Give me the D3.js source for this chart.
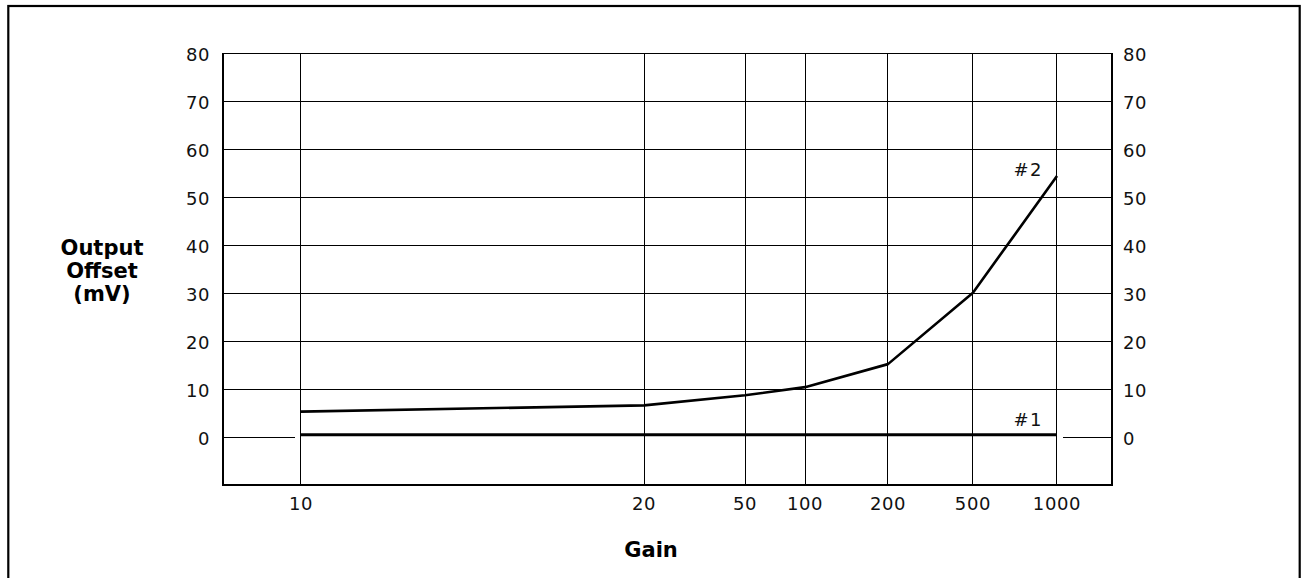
<!DOCTYPE html>
<html>
<head>
<meta charset="utf-8">
<script src="https://cdn.jsdelivr.net/npm/d3@7"></script>
<style>
  html, body { margin: 0; padding: 0; background: #fff; }
  svg { display: block; }
</style>
</head>
<body>
<svg id="chart" width="1304" height="578"></svg>
<script>
// ---- data ----
const gainTicks = [10, 20, 50, 100, 200, 500, 1000];
const yTicks = [0, 10, 20, 30, 40, 50, 60, 70, 80];
const series1Gain = [10, 1000];
const series1Offset = [0.5, 0.5];
const series2Gain = [10, 20, 50, 100, 200, 500, 1000];
const series2Offset = [5.3, 6.6, 8.7, 10.4, 15.2, 30.1, 54.4];
const seriesLabels = ["#1", "#2"];
const xTitle = "Gain";
const yTitleLines = ["Output", "Offset", "(mV)"];

// ---- layout ----
const W = 1304, H = 578;
const plot = { left: 223, right: 1112, top: 53.3, bottom: 485 };
// relative placement of the (non-uniform) gain ticks along the plot width
const tickFrac = [0.0877, 0.4736, 0.5872, 0.6547, 0.7480, 0.8436, 0.9381];
const font = "'DejaVu Sans', sans-serif";

const svg = d3.select("#chart");

const x = d3.scaleLinear()
  .domain(gainTicks)
  .range(tickFrac.map(f => plot.left + f * (plot.right - plot.left)));
const y = d3.scaleLinear().domain([-10, 80]).range([plot.bottom, plot.top]);

// outer frame
svg.append("rect")
  .attr("x", 8.3).attr("y", 6).attr("width", 1299.7 - 8.3).attr("height", 700)
  .attr("fill", "none").attr("stroke", "#000").attr("stroke-width", 2.2);

const grid = svg.append("g")
  .attr("stroke", "#000").attr("stroke-width", 1)
  .attr("fill", "none").attr("shape-rendering", "crispEdges");

// horizontal gridlines (except 0)
yTicks.filter(v => v !== 0).forEach(v => {
  grid.append("line")
    .attr("x1", plot.left).attr("x2", plot.right)
    .attr("y1", y(v)).attr("y2", y(v));
});
// zero gridline broken around series #1
grid.append("line")
  .attr("x1", plot.left).attr("x2", x(gainTicks[0]) - 6)
  .attr("y1", y(0)).attr("y2", y(0));
grid.append("line")
  .attr("x1", x(gainTicks[gainTicks.length - 1]) + 6).attr("x2", plot.right)
  .attr("y1", y(0)).attr("y2", y(0));

// vertical gridlines
gainTicks.forEach(g => {
  grid.append("line")
    .attr("x1", x(g)).attr("x2", x(g))
    .attr("y1", plot.top).attr("y2", plot.bottom);
});

// plot frame
grid.append("rect")
  .attr("x", plot.left).attr("y", plot.top)
  .attr("width", plot.right - plot.left).attr("height", plot.bottom - plot.top)
  .attr("stroke-width", 1.5);

// y tick labels, left and right
const tickFont = 18;
yTicks.forEach(v => {
  svg.append("text")
    .attr("x", plot.left - 13).attr("y", y(v) + 8)
    .attr("text-anchor", "end")
    .attr("font-family", font).attr("font-size", tickFont)
    .attr("letter-spacing", 0.6)
    .attr("fill", "#111")
    .text(v);
  svg.append("text")
    .attr("x", plot.right + 11).attr("y", y(v) + 8)
    .attr("text-anchor", "start")
    .attr("font-family", font).attr("font-size", tickFont)
    .attr("letter-spacing", 0.6)
    .attr("fill", "#111")
    .text(v);
});

// x tick labels
gainTicks.forEach(g => {
  svg.append("text")
    .attr("x", x(g)).attr("y", plot.bottom + 25)
    .attr("text-anchor", "middle")
    .attr("font-family", font).attr("font-size", tickFont)
    .attr("letter-spacing", 0.6)
    .attr("fill", "#111")
    .text(g);
});

// series lines
const line = d3.line().x(d => x(d[0])).y(d => y(d[1]));
svg.append("path")
  .datum(d3.zip(series1Gain, series1Offset))
  .attr("d", line)
  .attr("fill", "none").attr("stroke", "#000").attr("stroke-width", 3);
svg.append("path")
  .datum(d3.zip(series2Gain, series2Offset))
  .attr("d", line)
  .attr("fill", "none").attr("stroke", "#000").attr("stroke-width", 2.6)
  .attr("stroke-linejoin", "round");

// series labels
const lastGain = gainTicks[gainTicks.length - 1];
svg.append("text")
  .attr("x", x(lastGain) - 14).attr("y", y(series1Offset[1]) - 9)
  .attr("text-anchor", "end")
  .attr("font-family", font).attr("font-size", tickFont)
  .attr("letter-spacing", 1.5)
  .attr("fill", "#111")
  .text(seriesLabels[0]);
svg.append("text")
  .attr("x", x(lastGain) - 14).attr("y", y(series2Offset[series2Offset.length - 1]))
  .attr("text-anchor", "end")
  .attr("font-family", font).attr("font-size", tickFont)
  .attr("letter-spacing", 1.5)
  .attr("fill", "#111")
  .text(seriesLabels[1]);

// axis titles
svg.append("text")
  .attr("x", 651).attr("y", 557)
  .attr("text-anchor", "middle")
  .attr("font-family", font).attr("font-size", 21).attr("font-weight", "bold")
  .text(xTitle);

const yt = svg.append("text")
  .attr("text-anchor", "middle")
  .attr("font-family", font).attr("font-size", 21).attr("font-weight", "bold");
yTitleLines.forEach((t, i) => {
  yt.append("tspan").attr("x", 102).attr("y", 255 + i * 23).text(t);
});
</script>
</body>
</html>
